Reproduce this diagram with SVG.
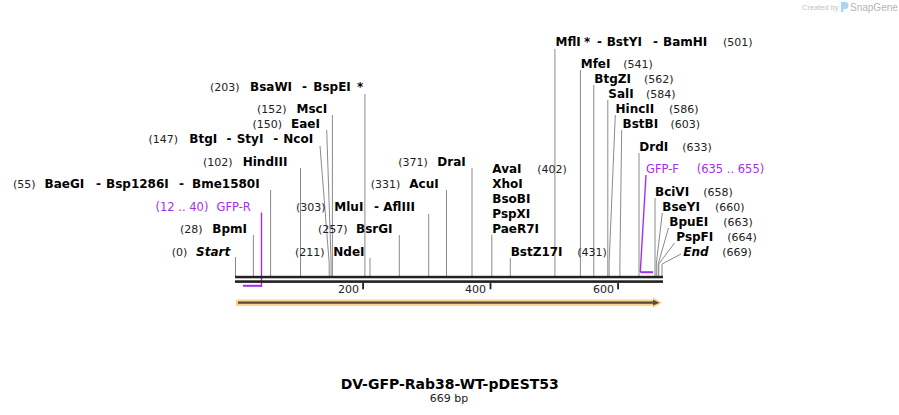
<svg xmlns="http://www.w3.org/2000/svg" width="899" height="415" viewBox="0 0 899 415">
<style>
.n{font-family:"DejaVu Sans",Verdana,sans-serif;font-size:12px;font-weight:bold;fill:#000}
.i{font-style:italic}
.p{font-family:"DejaVu Sans",Verdana,sans-serif;font-size:11px;fill:#222}
.pu{fill:#a22ff0;font-size:11.5px}
.ln{stroke:#8a8a8a;stroke-width:1;fill:none}
.pl{stroke:#a22ff0;fill:none}
.bar{fill:#222}
</style>
<rect width="899" height="415" fill="#fff"/>
<g id="watermark">
<text x="802" y="10" font-family="Liberation Sans,sans-serif" font-size="7.5" fill="#c4c4c4">Created by</text>
<path d="M841,2 h4 a3.5,3.5 0 0 1 0,7 h-1.5 v3 h-2.5 z" fill="#a9d6f3"/>
<text x="850" y="11" font-family="Liberation Sans,sans-serif" font-size="10" fill="#b5b5b5">SnapGene</text>
</g>
<g id="connectors">
<path class="ln" d="M235.5,257V276"/>
<path class="ln" d="M253.4,235V276"/>
<path class="ln" d="M270.6,190V276"/>
<path class="ln" d="M300.5,168V276"/>
<path class="ln" d="M320,146L329.2,263V276"/>
<path class="ln" d="M326.7,130L331.1,263V276"/>
<path class="ln" d="M332.4,115V276"/>
<path class="ln" d="M364.9,94V276"/>
<path class="ln" d="M370,258V276"/>
<path class="ln" d="M399.3,235V276"/>
<path class="ln" d="M428.7,214V276"/>
<path class="ln" d="M446.5,190V276"/>
<path class="ln" d="M472,168V276"/>
<path class="ln" d="M491.8,235V276"/>
<path class="ln" d="M510.3,258V276"/>
<path class="ln" d="M554.9,49V276"/>
<path class="ln" d="M580.4,70V276"/>
<path class="ln" d="M593.8,85V276"/>
<path class="ln" d="M607.8,100V276"/>
<path class="ln" d="M615.3,115L609.1,263V276"/>
<path class="ln" d="M621.7,130L619.9,263V276"/>
<path class="ln" d="M639,153V276"/>
<path class="ln" d="M655,198V276"/>
<path class="ln" d="M662.3,213L656.3,264V276"/>
<path class="ln" d="M668.5,228L658.2,264V276"/>
<path class="ln" d="M674.5,243L658.8,264V276"/>
<path class="ln" d="M681,254L662,264V276"/>
<path class="pl" stroke-width="1.4" d="M261.5,212.5V287"/>
<path class="pl" stroke-width="2" d="M243,285.8H261.5"/>
<path class="pl" stroke-width="1.4" d="M646,175L640.3,272"/>
<path class="pl" stroke-width="2" d="M640.3,272.2H653"/>
</g>
<g id="sequence">
<rect class="bar" x="235" y="275.8" width="428" height="2.5"/>
<rect class="bar" x="235" y="280.3" width="428" height="2.6"/>
<rect class="bar" x="362.2" y="283" width="1.8" height="6.3"/>
<rect class="bar" x="489.6" y="283" width="1.8" height="6.3"/>
<rect class="bar" x="617.2" y="283" width="1.8" height="6.3"/>
<text class="p" x="359" y="293" text-anchor="end">200</text>
<text class="p" x="486" y="293" text-anchor="end">400</text>
<text class="p" x="614" y="293" text-anchor="end">600</text>
</g>
<g id="feature-arrow">
<path d="M236,299.4H653V297.3L661.8,302.7L653,308.2V306H236Z" fill="#fcd28c"/>
<path d="M238,302.7H654" stroke="#5a4a36" stroke-width="2.2"/>
<path d="M653,299.8L659.6,302.7L653,305.6Z" fill="#5a4a36"/>
</g>
<g id="enz-BsaWI"><text class="p" x="210" y="91">(203)</text><text class="n" x="250" y="91">BsaWI</text><text class="n" x="302" y="91">-</text><text class="n" x="313.3" y="91">BspEI</text><text class="n" x="357" y="91">*</text></g>
<g id="enz-MscI"><text class="p" x="257" y="113">(152)</text><text class="n" x="296.5" y="113">MscI</text></g>
<g id="enz-EaeI"><text class="p" x="252.5" y="128">(150)</text><text class="n" x="291" y="128">EaeI</text></g>
<g id="enz-BtgI"><text class="p" x="148.5" y="143">(147)</text><text class="n" x="189.3" y="143">BtgI</text><text class="n" x="226.5" y="143">-</text><text class="n" x="236.7" y="143">StyI</text><text class="n" x="273.3" y="143">-</text><text class="n" x="283.3" y="143">NcoI</text></g>
<g id="enz-HindIII"><text class="p" x="203" y="166">(102)</text><text class="n" x="242.7" y="166">HindIII</text></g>
<g id="enz-BaeGI"><text class="p" x="13" y="188">(55)</text><text class="n" x="44.5" y="188">BaeGI</text><text class="n" x="96" y="188">-</text><text class="n" x="106" y="188">Bsp1286I</text><text class="n" x="179" y="188">-</text><text class="n" x="192" y="188">Bme1580I</text></g>
<g id="primer-GFP-R"><text class="p pu" x="155.5" y="211">(12 .. 40)</text><text class="p pu" x="216.5" y="211">GFP-R</text></g>
<g id="enz-BpmI"><text class="p" x="180" y="233">(28)</text><text class="n" x="212.3" y="233">BpmI</text></g>
<g id="site-Start"><text class="p" x="171.7" y="256">(0)</text><text class="n i" x="196" y="256">Start</text></g>
<g id="enz-MluI"><text class="p" x="296" y="211">(303)</text><text class="n" x="334.3" y="211">MluI</text><text class="n" x="374" y="211">-</text><text class="n" x="383.3" y="211">AflIII</text></g>
<g id="enz-BsrGI"><text class="p" x="318" y="233">(257)</text><text class="n" x="356" y="233">BsrGI</text></g>
<g id="enz-NdeI"><text class="p" x="295" y="256">(211)</text><text class="n" x="333.3" y="256">NdeI</text></g>
<g id="enz-DraI"><text class="p" x="398.3" y="166">(371)</text><text class="n" x="437.3" y="166">DraI</text></g>
<g id="enz-AcuI"><text class="p" x="370.7" y="188">(331)</text><text class="n" x="409.3" y="188">AcuI</text></g>
<g id="enz-AvaI"><text class="n" x="492.3" y="173">AvaI</text><text class="p" x="537.3" y="173">(402)</text><text class="n" x="492.3" y="188">XhoI</text><text class="n" x="492.3" y="203">BsoBI</text><text class="n" x="492.3" y="218">PspXI</text><text class="n" x="492.3" y="233">PaeR7I</text></g>
<g id="enz-BstZ17I"><text class="n" x="510.7" y="256">BstZ17I</text><text class="p" x="577.3" y="256">(431)</text></g>
<g id="enz-MflI"><text class="n" x="555.5" y="46">MflI</text><text class="n" x="584" y="46">*</text><text class="n" x="597" y="46">-</text><text class="n" x="606.7" y="46">BstYI</text><text class="n" x="653" y="46">-</text><text class="n" x="663" y="46">BamHI</text><text class="p" x="723" y="46">(501)</text></g>
<g id="enz-MfeI"><text class="n" x="580.7" y="68">MfeI</text><text class="p" x="623.3" y="68">(541)</text></g>
<g id="enz-BtgZI"><text class="n" x="594.3" y="83">BtgZI</text><text class="p" x="644" y="83">(562)</text></g>
<g id="enz-SalI"><text class="n" x="608.3" y="98">SalI</text><text class="p" x="646" y="98">(584)</text></g>
<g id="enz-HincII"><text class="n" x="615.5" y="113">HincII</text><text class="p" x="669" y="113">(586)</text></g>
<g id="enz-BstBI"><text class="n" x="622.5" y="128">BstBI</text><text class="p" x="670.5" y="128">(603)</text></g>
<g id="enz-DrdI"><text class="n" x="639.3" y="151">DrdI</text><text class="p" x="682.3" y="151">(633)</text></g>
<g id="primer-GFP-F"><text class="p pu" x="646" y="173">GFP-F</text><text class="p pu" x="696.7" y="173">(635 .. 655)</text></g>
<g id="enz-BciVI"><text class="n" x="655" y="196">BciVI</text><text class="p" x="703.3" y="196">(658)</text></g>
<g id="enz-BseYI"><text class="n" x="662.3" y="211">BseYI</text><text class="p" x="715" y="211">(660)</text></g>
<g id="enz-BpuEI"><text class="n" x="669.3" y="226">BpuEI</text><text class="p" x="723.3" y="226">(663)</text></g>
<g id="enz-PspFI"><text class="n" x="676.3" y="241">PspFI</text><text class="p" x="727.3" y="241">(664)</text></g>
<g id="site-End"><text class="n i" x="683.3" y="256">End</text><text class="p" x="722.3" y="256">(669)</text></g>
<g id="title">
<text x="449.7" y="389" text-anchor="middle" font-family="DejaVu Sans,Verdana,sans-serif" font-size="14" font-weight="bold" fill="#000">DV-GFP-Rab38-WT-pDEST53</text>
<text x="449" y="402" text-anchor="middle" font-family="DejaVu Sans,Verdana,sans-serif" font-size="11" fill="#222">669 bp</text>
</g>
</svg>
